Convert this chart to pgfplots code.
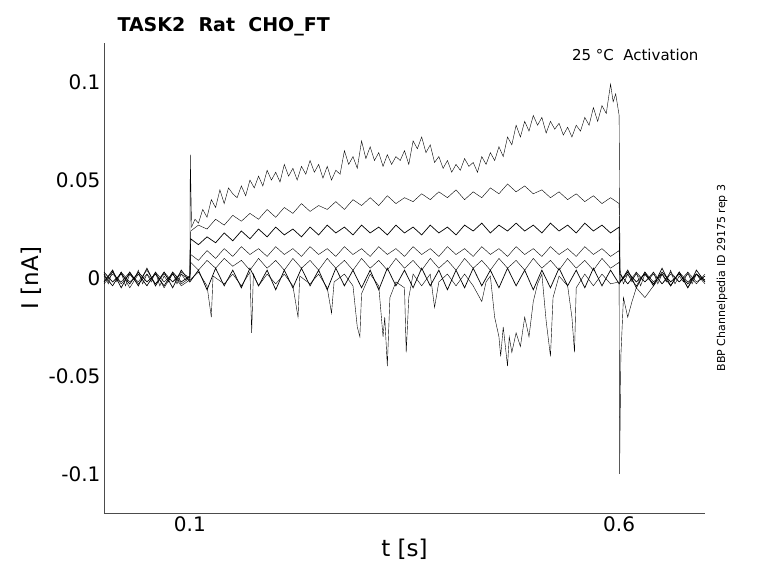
\documentclass[border=0pt]{standalone}
\usepackage{pgfplots}
\pgfplotsset{compat=1.18}
\usepackage{fontspec}
\setmainfont{DejaVu Sans}
\begin{document}
\begin{tikzpicture}
\begin{axis}[scale only axis, width=601pt, height=470pt,
 xmin=0, xmax=0.7, ymin=-0.12, ymax=0.12,
 axis x line*=bottom, axis y line*=left,
 xtick={0.1,0.6}, xticklabels={0.1,0.6},
 ytick={-0.1,-0.05,0,0.05,0.1}, yticklabels={-0.1,-0.05,0,0.05,0.1},
 tick align=inside, major tick length=0pt,
 axis line style={black!70,-}, ticklabel style={font=\fontsize{20}{22}\selectfont},
 xlabel={t [s]}, ylabel={I [nA]},
 label style={font=\fontsize{23}{26}\selectfont},
 cycle list={{black,solid,line width=0.7pt,mark=none}},
 clip=true]
% top trace
\addplot coordinates {(0,0.002)(0.005,-0.003)(0.01,0.004)(0.015,-0.002)(0.02,0.003)(0.025,-0.004)(0.03,0.002)(0.035,-0.001)(0.04,0.004)(0.045,-0.003)(0.05,0.002)(0.055,-0.002)(0.06,0.003)(0.065,-0.004)(0.07,0.001)(0.075,-0.002)(0.08,0.003)(0.085,-0.003)(0.09,0.002)(0.095,-0.001)(0.1,0.001)(0.1005,0.063)(0.102,0.026)(0.106,0.03)(0.11,0.028)(0.115,0.035)(0.12,0.031)(0.125,0.04)(0.13,0.036)(0.135,0.045)(0.14,0.038)(0.145,0.046)(0.15,0.043)(0.155,0.041)(0.16,0.047)(0.165,0.042)(0.17,0.05)(0.175,0.046)(0.18,0.052)(0.185,0.047)(0.19,0.055)(0.195,0.05)(0.2,0.054)(0.205,0.049)(0.21,0.058)(0.215,0.052)(0.22,0.056)(0.225,0.05)(0.23,0.057)(0.235,0.053)(0.24,0.06)(0.245,0.054)(0.25,0.058)(0.255,0.051)(0.26,0.057)(0.265,0.05)(0.27,0.055)(0.275,0.053)(0.28,0.065)(0.285,0.058)(0.29,0.062)(0.295,0.056)(0.3,0.07)(0.305,0.061)(0.31,0.067)(0.315,0.06)(0.32,0.064)(0.325,0.057)(0.33,0.063)(0.335,0.058)(0.34,0.062)(0.345,0.06)(0.35,0.065)(0.355,0.058)(0.36,0.07)(0.365,0.066)(0.37,0.072)(0.375,0.064)(0.38,0.068)(0.385,0.059)(0.39,0.062)(0.395,0.056)(0.4,0.06)(0.405,0.054)(0.41,0.058)(0.415,0.055)(0.42,0.061)(0.425,0.057)(0.43,0.059)(0.435,0.054)(0.44,0.062)(0.445,0.058)(0.45,0.064)(0.455,0.06)(0.46,0.067)(0.465,0.062)(0.47,0.072)(0.475,0.068)(0.48,0.078)(0.485,0.072)(0.49,0.08)(0.495,0.075)(0.5,0.083)(0.505,0.078)(0.51,0.082)(0.515,0.074)(0.52,0.08)(0.525,0.076)(0.53,0.079)(0.535,0.073)(0.54,0.077)(0.545,0.072)(0.55,0.078)(0.555,0.075)(0.56,0.082)(0.565,0.078)(0.57,0.087)(0.575,0.08)(0.58,0.088)(0.585,0.084)(0.59,0.099)(0.593,0.09)(0.596,0.094)(0.6,0.083)(0.601,0.004)(0.605,-0.003)(0.61,0.002)(0.615,-0.002)(0.62,0.003)(0.625,-0.004)(0.63,0.002)(0.635,-0.001)(0.64,0.003)(0.645,-0.003)(0.65,0.002)(0.655,-0.002)(0.66,0.004)(0.665,-0.003)(0.67,0.001)(0.675,-0.002)(0.68,0.003)(0.685,-0.003)(0.69,0.002)(0.695,-0.001)(0.7,0.001)};
% second trace
\addplot coordinates {(0,-0.002)(0.01,0.003)(0.02,-0.003)(0.03,0.002)(0.04,-0.002)(0.05,0.004)(0.06,-0.003)(0.07,0.002)(0.08,-0.002)(0.09,0.003)(0.1,0)(0.101,0.024)(0.11,0.027)(0.12,0.025)(0.13,0.03)(0.14,0.027)(0.15,0.032)(0.16,0.029)(0.17,0.033)(0.18,0.03)(0.19,0.035)(0.2,0.031)(0.21,0.036)(0.22,0.033)(0.23,0.038)(0.24,0.034)(0.25,0.037)(0.26,0.035)(0.27,0.039)(0.28,0.035)(0.29,0.04)(0.3,0.037)(0.31,0.041)(0.32,0.037)(0.33,0.042)(0.34,0.038)(0.35,0.041)(0.36,0.039)(0.37,0.043)(0.38,0.04)(0.39,0.044)(0.4,0.041)(0.41,0.045)(0.42,0.04)(0.43,0.044)(0.44,0.041)(0.45,0.046)(0.46,0.043)(0.47,0.048)(0.48,0.044)(0.49,0.047)(0.5,0.043)(0.51,0.045)(0.52,0.041)(0.53,0.044)(0.54,0.04)(0.55,0.043)(0.56,0.039)(0.57,0.042)(0.58,0.038)(0.59,0.041)(0.6,0.038)(0.601,0.002)(0.61,-0.003)(0.62,0.002)(0.63,-0.002)(0.64,0.003)(0.65,-0.003)(0.66,0.002)(0.67,-0.002)(0.68,0.003)(0.69,-0.002)(0.7,0.001)};
% third trace
\addplot coordinates {(0,0.003)(0.01,-0.002)(0.02,0.002)(0.03,-0.003)(0.04,0.003)(0.05,-0.002)(0.06,0.002)(0.07,-0.004)(0.08,0.003)(0.09,-0.002)(0.1,0.001)(0.101,0.02)(0.11,0.017)(0.12,0.021)(0.13,0.018)(0.14,0.023)(0.15,0.019)(0.16,0.024)(0.17,0.02)(0.18,0.025)(0.19,0.021)(0.2,0.026)(0.21,0.022)(0.22,0.025)(0.23,0.021)(0.24,0.026)(0.25,0.022)(0.26,0.027)(0.27,0.023)(0.28,0.026)(0.29,0.022)(0.3,0.027)(0.31,0.023)(0.32,0.026)(0.33,0.022)(0.34,0.027)(0.35,0.023)(0.36,0.026)(0.37,0.022)(0.38,0.027)(0.39,0.023)(0.4,0.026)(0.41,0.022)(0.42,0.027)(0.43,0.024)(0.44,0.028)(0.45,0.023)(0.46,0.027)(0.47,0.024)(0.48,0.028)(0.49,0.024)(0.5,0.027)(0.51,0.023)(0.52,0.028)(0.53,0.024)(0.54,0.027)(0.55,0.023)(0.56,0.028)(0.57,0.024)(0.58,0.027)(0.59,0.023)(0.6,0.026)(0.601,-0.002)(0.61,0.003)(0.62,-0.002)(0.63,0.002)(0.64,-0.003)(0.65,0.003)(0.66,-0.002)(0.67,0.002)(0.68,-0.003)(0.69,0.002)(0.7,-0.001)};
% fourth trace
\addplot coordinates {(0,-0.003)(0.01,0.002)(0.02,-0.002)(0.03,0.003)(0.04,-0.003)(0.05,0.002)(0.06,-0.003)(0.07,0.003)(0.08,-0.002)(0.09,0.002)(0.1,-0.001)(0.101,0.012)(0.11,0.009)(0.12,0.014)(0.13,0.01)(0.14,0.015)(0.15,0.011)(0.16,0.016)(0.17,0.012)(0.18,0.015)(0.19,0.011)(0.2,0.016)(0.21,0.012)(0.22,0.015)(0.23,0.011)(0.24,0.016)(0.25,0.012)(0.26,0.015)(0.27,0.011)(0.28,0.016)(0.29,0.012)(0.3,0.015)(0.31,0.011)(0.32,0.016)(0.33,0.012)(0.34,0.015)(0.35,0.011)(0.36,0.016)(0.37,0.012)(0.38,0.015)(0.39,0.011)(0.4,0.016)(0.41,0.012)(0.42,0.015)(0.43,0.011)(0.44,0.016)(0.45,0.012)(0.46,0.015)(0.47,0.011)(0.48,0.016)(0.49,0.012)(0.5,0.015)(0.51,0.011)(0.52,0.016)(0.53,0.012)(0.54,0.015)(0.55,0.011)(0.56,0.016)(0.57,0.012)(0.58,0.015)(0.59,0.011)(0.6,0.014)(0.601,0.002)(0.61,-0.003)(0.62,0.003)(0.63,-0.002)(0.64,0.002)(0.65,-0.003)(0.66,0.003)(0.67,-0.002)(0.68,0.002)(0.69,-0.003)(0.7,0.002)};
% fifth trace
\addplot coordinates {(0,0.001)(0.01,-0.004)(0.02,0.003)(0.03,-0.002)(0.04,0.002)(0.05,-0.004)(0.06,0.003)(0.07,-0.002)(0.08,0.002)(0.09,-0.003)(0.1,0)(0.101,0.008)(0.11,0.004)(0.12,0.009)(0.13,0.005)(0.14,0.01)(0.15,0.006)(0.16,0.009)(0.17,0.004)(0.18,0.01)(0.19,0.005)(0.2,0.009)(0.21,0.004)(0.22,0.01)(0.23,0.005)(0.24,0.009)(0.25,0.004)(0.26,0.01)(0.27,0.005)(0.28,0.009)(0.29,0.004)(0.3,0.01)(0.31,0.005)(0.32,0.009)(0.33,0.004)(0.34,0.01)(0.35,0.005)(0.36,0.009)(0.37,0.004)(0.38,0.01)(0.39,0.005)(0.4,0.009)(0.41,0.004)(0.42,0.01)(0.43,0.005)(0.44,0.009)(0.45,0.004)(0.46,0.01)(0.47,0.005)(0.48,0.009)(0.49,0.004)(0.5,0.01)(0.51,0.005)(0.52,0.009)(0.53,0.004)(0.54,0.01)(0.55,0.005)(0.56,0.009)(0.57,0.004)(0.58,0.01)(0.59,0.005)(0.6,0.008)(0.601,-0.002)(0.61,0.002)(0.62,-0.004)(0.63,0.003)(0.64,-0.002)(0.65,0.002)(0.66,-0.004)(0.67,0.003)(0.68,-0.002)(0.69,0.002)(0.7,-0.002)};
% sixth trace with dips
\addplot coordinates {(0,0.002)(0.01,-0.004)(0.02,0.003)(0.03,-0.005)(0.04,0.002)(0.05,-0.004)(0.06,0.003)(0.07,-0.005)(0.08,0.002)(0.09,-0.004)(0.1,-0.001)(0.11,0.003)(0.12,-0.004)(0.125,-0.02)(0.127,0.001)(0.14,-0.003)(0.15,0.002)(0.16,-0.004)(0.17,0.003)(0.172,-0.028)(0.174,0.002)(0.18,-0.004)(0.19,0.002)(0.2,-0.003)(0.21,0.002)(0.22,-0.004)(0.226,-0.02)(0.228,0.001)(0.24,-0.003)(0.25,0.002)(0.26,-0.005)(0.265,-0.018)(0.268,-0.002)(0.28,0.002)(0.29,-0.004)(0.295,-0.025)(0.298,-0.03)(0.3,-0.008)(0.31,0.002)(0.32,-0.004)(0.325,-0.03)(0.327,-0.02)(0.33,-0.045)(0.333,-0.01)(0.34,-0.002)(0.35,-0.005)(0.352,-0.038)(0.355,-0.01)(0.36,0.002)(0.37,-0.004)(0.38,0.002)(0.385,-0.015)(0.39,-0.002)(0.4,0.002)(0.41,-0.004)(0.42,0.002)(0.43,-0.004)(0.44,-0.012)(0.445,-0.002)(0.45,0.001)(0.455,-0.02)(0.46,-0.03)(0.462,-0.04)(0.465,-0.025)(0.47,-0.045)(0.472,-0.03)(0.475,-0.038)(0.48,-0.028)(0.485,-0.035)(0.49,-0.02)(0.495,-0.03)(0.5,-0.012)(0.505,-0.003)(0.51,0.002)(0.515,-0.022)(0.52,-0.04)(0.523,-0.01)(0.53,0.001)(0.54,-0.004)(0.545,-0.02)(0.548,-0.038)(0.55,-0.005)(0.56,0.002)(0.57,-0.004)(0.58,0.002)(0.59,-0.003)(0.6,-0.002)(0.6005,-0.1)(0.602,-0.04)(0.605,-0.01)(0.61,-0.02)(0.615,-0.012)(0.62,-0.005)(0.63,-0.01)(0.64,-0.004)(0.65,0.002)(0.66,-0.004)(0.67,0.003)(0.68,-0.005)(0.69,0.002)(0.7,-0.003)};
% seventh trace
\addplot coordinates {(0,-0.002)(0.01,0.004)(0.02,-0.005)(0.03,0.003)(0.04,-0.004)(0.05,0.005)(0.06,-0.004)(0.07,0.003)(0.08,-0.005)(0.09,0.004)(0.1,-0.002)(0.11,0.004)(0.12,-0.006)(0.13,0.005)(0.14,-0.004)(0.15,0.004)(0.16,-0.005)(0.17,0.005)(0.18,-0.004)(0.19,0.004)(0.2,-0.006)(0.21,0.004)(0.22,-0.005)(0.23,0.005)(0.24,-0.004)(0.25,0.004)(0.26,-0.006)(0.27,0.005)(0.28,-0.004)(0.29,0.004)(0.3,-0.005)(0.31,0.004)(0.32,-0.006)(0.33,0.005)(0.34,-0.004)(0.35,0.004)(0.36,-0.005)(0.37,0.005)(0.38,-0.004)(0.39,0.004)(0.4,-0.006)(0.41,0.004)(0.42,-0.005)(0.43,0.005)(0.44,-0.004)(0.45,0.004)(0.46,-0.005)(0.47,0.005)(0.48,-0.004)(0.49,0.004)(0.5,-0.006)(0.51,0.004)(0.52,-0.005)(0.53,0.005)(0.54,-0.004)(0.55,0.004)(0.56,-0.005)(0.57,0.005)(0.58,-0.004)(0.59,0.004)(0.6,-0.003)(0.61,0.004)(0.62,-0.005)(0.63,0.003)(0.64,-0.004)(0.65,0.005)(0.66,-0.004)(0.67,0.003)(0.68,-0.005)(0.69,0.004)(0.7,-0.002)};
\node[anchor=north east, font=\fontsize{15}{17}\selectfont] at (rel axis cs:0.995,0.995) {25 °C\ \ Activation};
\end{axis}
\node[anchor=south west, font=\bfseries\fontsize{19}{22}\selectfont] at ([xshift=10pt,yshift=3pt]current axis.north west) {TASK2\ \ Rat\ \ CHO\_FT};
\node[rotate=90, anchor=south, font=\fontsize{11}{13}\selectfont] at ([xshift=26pt]current axis.east) {BBP Channelpedia ID 29175 rep 3};
\pgfresetboundingbox
\path ([xshift=-104pt,yshift=-70pt]current axis.south west) rectangle ([xshift=73pt,yshift=43pt]current axis.north east);
\end{tikzpicture}
\end{document}
